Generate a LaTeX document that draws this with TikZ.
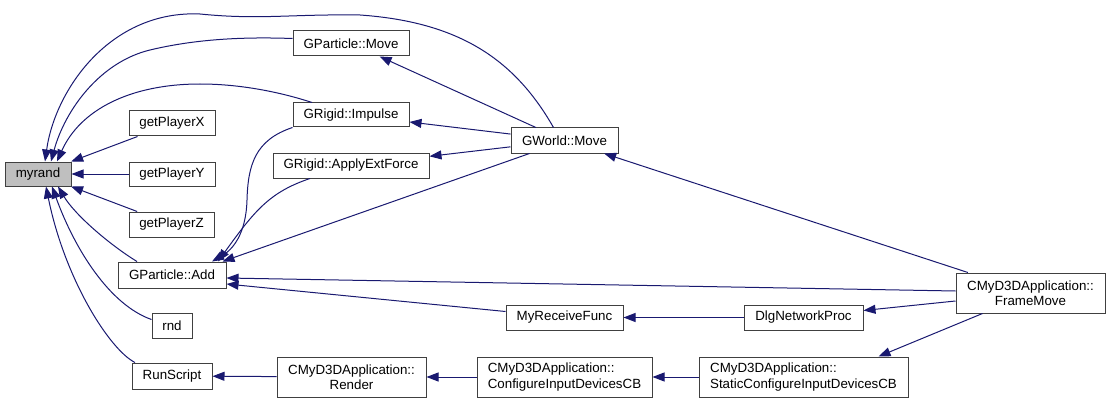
\documentclass[tikz,border=0pt]{standalone}
\usepackage{fontspec}
\setmainfont{Liberation Sans}
\usetikzlibrary{arrows.meta,calc}
\definecolor{edgeblue}{RGB}{25,25,112}
\definecolor{nodeborder}{RGB}{64,64,64}
\definecolor{hilite}{RGB}{191,191,191}
\begin{document}
\begin{tikzpicture}[x=0.75pt,y=-0.75pt,
  box/.style={draw=nodeborder, line width=0.75pt, fill=white, inner sep=0pt,
    font=\fontsize{10}{11.5}\selectfont},
  sz/.style 2 args={minimum width=#1*0.75pt, minimum height=#2*0.75pt},
  edge/.style={draw=edgeblue, line width=0.75pt, -{Triangle[length=9pt,width=6.75pt]}}]
\useasboundingbox (0,0) rectangle (1111,403);

% nodes
\node[box, sz={66}{24}, fill=hilite] (myrand) at (38,174) {myrand};
\node[box, sz={86}{25}] (gpx) at (172,123.5) {getPlayerX};
\node[box, sz={86}{24}] (gpy) at (172,174) {getPlayerY};
\node[box, sz={85}{25}] (gpz) at (171.5,224.5) {getPlayerZ};
\node[box, sz={108}{26}] (add) at (172,275) {GParticle::Add};
\node[box, sz={40}{25}] (rnd) at (172,325.5) {rnd};
\node[box, sz={80}{26}] (rs) at (172,376) {RunScript};
\node[box, sz={116}{25}] (gpm) at (351,43.5) {GParticle::Move};
\node[box, sz={116}{24}] (imp) at (351,115) {GRigid::Impulse};
\node[box, sz={156}{25}] (apf) at (351,165.5) {GRigid::ApplyExtForce};
\node[box, sz={149}{40}, align=center] (render) at (351.5,377) {CMyD3DApplication::\\Render};
\node[box, sz={107}{25}] (gw) at (564.5,140.5) {GWorld::Move};
\node[box, sz={117}{25}] (mrf) at (564.5,317.5) {MyReceiveFunc};
\node[box, sz={175}{40}, align=left] (cfg) at (564.5,377) {CMyD3DApplication::\\ConfigureInputDevicesCB};
\node[box, sz={119}{25}] (dlg) at (803.5,317.5) {DlgNetworkProc};
\node[box, sz={209}{40}, align=left] (scfg) at (803.5,377) {CMyD3DApplication::\\StaticConfigureInputDevicesCB};
\node[box, sz={149}{40}, align=center] (frame) at (1030.5,293) {CMyD3DApplication::\\FrameMove};

% straight edges
\draw[edge] (gpx) -- (myrand);
\draw[edge] (gpy) -- (myrand);
\draw[edge] (gpz) -- (myrand);
\draw[edge] (gw) -- (gpm);
\draw[edge] (gw) -- (imp);
\draw[edge] (gw) -- (apf);
\draw[edge] ($(gw.south west)+(19,0)$) -- ($(add.north east)+(-4,0)$);
\draw[edge] (frame) -- (gw);
\draw[edge] ($(frame.west)+(0,-2)$) -- ($(add.east)+(0,3)$);
\draw[edge] ($(mrf.west)+(0,-6)$) -- ($(add.east)+(0,9)$);
\draw[edge] (dlg) -- (mrf);
\draw[edge] ($(frame.west)+(0,8)$) -- ($(dlg.east)+(0,-7)$);
\draw[edge] ($(frame.south)+(-48,0)$) -- ($(scfg.north)+(75,0)$);
\draw[edge] (scfg) -- (cfg);
\draw[edge] (cfg) -- (render);
\draw[edge] (render) -- (rs);

% curved edges to myrand
\draw[edge] ($(gw.north)+(-11,0)$) .. controls (515,60) and (460,22) .. (360,15)
  .. controls (290,14) and (260,20) .. (200,14)
  .. controls (110,10) and (55,90) .. ($(myrand.north)+(7,0)$);
\draw[edge] ($(gpm.west)+(0,-5)$) .. controls (250,37) and (200,38) .. (150,50)
  .. controls (100,62) and (65,110) .. ($(myrand.north)+(13,0)$);
\draw[edge] ($(imp.north)+(-39,0)$) .. controls (280,92) and (240,84) .. (200,84)
  .. controls (130,84) and (80,110) .. ($(myrand.north)+(19,0)$);
\draw[edge] ($(add.north)+(-35,0)$) .. controls (110,245) and (75,215) .. ($(myrand.south)+(20,0)$);
\draw[edge] ($(rnd.west)+(0,-6)$) .. controls (110,305) and (75,250) .. ($(myrand.south)+(14,0)$);
\draw[edge] ($(rs.north)+(-37,0)$) .. controls (110,350) and (65,280) .. ($(myrand.south)+(8,0)$);

% curved edges to GParticle::Add
\draw[edge] (imp.south west) .. controls (255,140) and (248,165) .. (247,200)
  .. controls (246,235) and (232,250) .. ($(add.north)+(40,0)$);
\draw[edge] ($(apf.south)+(-41,0)$) .. controls (270,192) and (255,210) .. ($(add.north)+(46,0)$);
\end{tikzpicture}
\end{document}
